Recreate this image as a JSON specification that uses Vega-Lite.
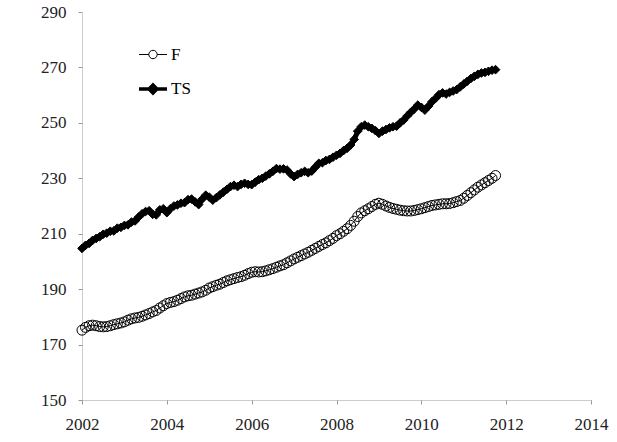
{
  "$schema": "https://vega.github.io/schema/vega-lite/v6.json",
  "width": 509,
  "height": 388,
  "autosize": {"type": "none"},
  "padding": {"left": 82, "top": 12, "right": 26, "bottom": 42},
  "background": "white",
  "config": {
    "view": {"stroke": null},
    "axis": {
      "grid": false,
      "domainColor": "#999999",
      "domainDash": [1, 1],
      "tickColor": "#999999",
      "tickSize": 4,
      "labelFont": "Times New Roman",
      "labelFontSize": 17,
      "labelColor": "#222222",
      "title": null
    }
  },
  "datasets": {
    "series": [
      {"s":"TS","t":2002.0,"v":204.7},{"s":"TS","t":2002.083,"v":205.8},{"s":"TS","t":2002.167,"v":206.5},{"s":"TS","t":2002.25,"v":207.6},{"s":"TS","t":2002.333,"v":208.3},{"s":"TS","t":2002.417,"v":208.9},{"s":"TS","t":2002.5,"v":209.8},{"s":"TS","t":2002.583,"v":210.2},{"s":"TS","t":2002.667,"v":210.9},{"s":"TS","t":2002.75,"v":211.0},{"s":"TS","t":2002.833,"v":212.0},{"s":"TS","t":2002.917,"v":212.3},
      {"s":"TS","t":2003.0,"v":213.0},{"s":"TS","t":2003.083,"v":213.2},{"s":"TS","t":2003.167,"v":214.2},{"s":"TS","t":2003.25,"v":214.6},{"s":"TS","t":2003.333,"v":216.0},{"s":"TS","t":2003.417,"v":217.2},{"s":"TS","t":2003.5,"v":218.0},{"s":"TS","t":2003.583,"v":218.3},{"s":"TS","t":2003.667,"v":217.0},{"s":"TS","t":2003.75,"v":216.8},{"s":"TS","t":2003.833,"v":218.6},{"s":"TS","t":2003.917,"v":219.0},
      {"s":"TS","t":2004.0,"v":217.6},{"s":"TS","t":2004.083,"v":219.0},{"s":"TS","t":2004.167,"v":220.0},{"s":"TS","t":2004.25,"v":220.4},{"s":"TS","t":2004.333,"v":221.0},{"s":"TS","t":2004.417,"v":221.2},{"s":"TS","t":2004.5,"v":222.3},{"s":"TS","t":2004.583,"v":222.5},{"s":"TS","t":2004.667,"v":221.5},{"s":"TS","t":2004.75,"v":220.5},{"s":"TS","t":2004.833,"v":222.5},{"s":"TS","t":2004.917,"v":223.9},
      {"s":"TS","t":2005.0,"v":223.2},{"s":"TS","t":2005.083,"v":222.1},{"s":"TS","t":2005.167,"v":223.0},{"s":"TS","t":2005.25,"v":224.0},{"s":"TS","t":2005.333,"v":225.0},{"s":"TS","t":2005.417,"v":226.0},{"s":"TS","t":2005.5,"v":227.0},{"s":"TS","t":2005.583,"v":227.5},{"s":"TS","t":2005.667,"v":227.0},{"s":"TS","t":2005.75,"v":227.8},{"s":"TS","t":2005.833,"v":228.2},{"s":"TS","t":2005.917,"v":227.8},
      {"s":"TS","t":2006.0,"v":227.7},{"s":"TS","t":2006.083,"v":228.6},{"s":"TS","t":2006.167,"v":229.5},{"s":"TS","t":2006.25,"v":230.0},{"s":"TS","t":2006.333,"v":230.8},{"s":"TS","t":2006.417,"v":231.6},{"s":"TS","t":2006.5,"v":232.5},{"s":"TS","t":2006.583,"v":233.5},{"s":"TS","t":2006.667,"v":233.3},{"s":"TS","t":2006.75,"v":233.4},{"s":"TS","t":2006.833,"v":233.0},{"s":"TS","t":2006.917,"v":231.6},
      {"s":"TS","t":2007.0,"v":230.6},{"s":"TS","t":2007.083,"v":231.4},{"s":"TS","t":2007.167,"v":232.0},{"s":"TS","t":2007.25,"v":232.5},{"s":"TS","t":2007.333,"v":232.0},{"s":"TS","t":2007.417,"v":232.6},{"s":"TS","t":2007.5,"v":234.0},{"s":"TS","t":2007.583,"v":235.4},{"s":"TS","t":2007.667,"v":235.6},{"s":"TS","t":2007.75,"v":236.4},{"s":"TS","t":2007.833,"v":236.8},{"s":"TS","t":2007.917,"v":237.6},
      {"s":"TS","t":2008.0,"v":238.3},{"s":"TS","t":2008.083,"v":239.0},{"s":"TS","t":2008.167,"v":240.0},{"s":"TS","t":2008.25,"v":240.8},{"s":"TS","t":2008.333,"v":242.0},{"s":"TS","t":2008.417,"v":244.0},{"s":"TS","t":2008.5,"v":247.0},{"s":"TS","t":2008.583,"v":248.6},{"s":"TS","t":2008.667,"v":249.2},{"s":"TS","t":2008.75,"v":248.6},{"s":"TS","t":2008.833,"v":248.0},{"s":"TS","t":2008.917,"v":247.2},
      {"s":"TS","t":2009.0,"v":246.2},{"s":"TS","t":2009.083,"v":247.0},{"s":"TS","t":2009.167,"v":247.6},{"s":"TS","t":2009.25,"v":248.2},{"s":"TS","t":2009.333,"v":248.6},{"s":"TS","t":2009.417,"v":248.8},{"s":"TS","t":2009.5,"v":250.0},{"s":"TS","t":2009.583,"v":251.0},{"s":"TS","t":2009.667,"v":252.5},{"s":"TS","t":2009.75,"v":253.8},{"s":"TS","t":2009.833,"v":255.0},{"s":"TS","t":2009.917,"v":256.4},
      {"s":"TS","t":2010.0,"v":255.6},{"s":"TS","t":2010.083,"v":254.6},{"s":"TS","t":2010.167,"v":256.0},{"s":"TS","t":2010.25,"v":257.6},{"s":"TS","t":2010.333,"v":258.8},{"s":"TS","t":2010.417,"v":260.2},{"s":"TS","t":2010.5,"v":260.8},{"s":"TS","t":2010.583,"v":260.4},{"s":"TS","t":2010.667,"v":261.0},{"s":"TS","t":2010.75,"v":261.5},{"s":"TS","t":2010.833,"v":262.0},{"s":"TS","t":2010.917,"v":263.0},
      {"s":"TS","t":2011.0,"v":264.0},{"s":"TS","t":2011.083,"v":265.0},{"s":"TS","t":2011.167,"v":266.0},{"s":"TS","t":2011.25,"v":266.8},{"s":"TS","t":2011.333,"v":267.5},{"s":"TS","t":2011.417,"v":268.0},{"s":"TS","t":2011.5,"v":268.2},{"s":"TS","t":2011.583,"v":268.6},{"s":"TS","t":2011.667,"v":269.0},{"s":"TS","t":2011.75,"v":269.2},
      {"s":"F","t":2002.0,"v":175.2},{"s":"F","t":2002.083,"v":176.2},{"s":"F","t":2002.167,"v":176.8},{"s":"F","t":2002.25,"v":177.0},{"s":"F","t":2002.333,"v":176.8},{"s":"F","t":2002.417,"v":176.5},{"s":"F","t":2002.5,"v":176.4},{"s":"F","t":2002.583,"v":176.5},{"s":"F","t":2002.667,"v":176.8},{"s":"F","t":2002.75,"v":177.2},{"s":"F","t":2002.833,"v":177.5},{"s":"F","t":2002.917,"v":177.8},
      {"s":"F","t":2003.0,"v":178.2},{"s":"F","t":2003.083,"v":178.8},{"s":"F","t":2003.167,"v":179.3},{"s":"F","t":2003.25,"v":179.6},{"s":"F","t":2003.333,"v":179.8},{"s":"F","t":2003.417,"v":180.2},{"s":"F","t":2003.5,"v":180.7},{"s":"F","t":2003.583,"v":181.2},{"s":"F","t":2003.667,"v":181.8},{"s":"F","t":2003.75,"v":182.3},{"s":"F","t":2003.833,"v":183.2},{"s":"F","t":2003.917,"v":184.0},
      {"s":"F","t":2004.0,"v":184.8},{"s":"F","t":2004.083,"v":185.2},{"s":"F","t":2004.167,"v":185.5},{"s":"F","t":2004.25,"v":186.0},{"s":"F","t":2004.333,"v":186.6},{"s":"F","t":2004.417,"v":187.2},{"s":"F","t":2004.5,"v":187.6},{"s":"F","t":2004.583,"v":187.8},{"s":"F","t":2004.667,"v":188.2},{"s":"F","t":2004.75,"v":188.6},{"s":"F","t":2004.833,"v":189.0},{"s":"F","t":2004.917,"v":189.6},
      {"s":"F","t":2005.0,"v":190.4},{"s":"F","t":2005.083,"v":190.9},{"s":"F","t":2005.167,"v":191.4},{"s":"F","t":2005.25,"v":191.8},{"s":"F","t":2005.333,"v":192.4},{"s":"F","t":2005.417,"v":193.0},{"s":"F","t":2005.5,"v":193.4},{"s":"F","t":2005.583,"v":193.8},{"s":"F","t":2005.667,"v":194.2},{"s":"F","t":2005.75,"v":194.5},{"s":"F","t":2005.833,"v":195.0},{"s":"F","t":2005.917,"v":195.6},
      {"s":"F","t":2006.0,"v":196.1},{"s":"F","t":2006.083,"v":196.3},{"s":"F","t":2006.167,"v":196.2},{"s":"F","t":2006.25,"v":196.3},{"s":"F","t":2006.333,"v":196.6},{"s":"F","t":2006.417,"v":197.0},{"s":"F","t":2006.5,"v":197.4},{"s":"F","t":2006.583,"v":197.9},{"s":"F","t":2006.667,"v":198.4},{"s":"F","t":2006.75,"v":198.8},{"s":"F","t":2006.833,"v":199.5},{"s":"F","t":2006.917,"v":200.2},
      {"s":"F","t":2007.0,"v":200.9},{"s":"F","t":2007.083,"v":201.5},{"s":"F","t":2007.167,"v":202.1},{"s":"F","t":2007.25,"v":202.7},{"s":"F","t":2007.333,"v":203.3},{"s":"F","t":2007.417,"v":204.0},{"s":"F","t":2007.5,"v":204.7},{"s":"F","t":2007.583,"v":205.4},{"s":"F","t":2007.667,"v":206.1},{"s":"F","t":2007.75,"v":206.7},{"s":"F","t":2007.833,"v":207.5},{"s":"F","t":2007.917,"v":208.3},
      {"s":"F","t":2008.0,"v":209.3},{"s":"F","t":2008.083,"v":210.0},{"s":"F","t":2008.167,"v":210.9},{"s":"F","t":2008.25,"v":211.8},{"s":"F","t":2008.333,"v":213.0},{"s":"F","t":2008.417,"v":214.5},{"s":"F","t":2008.5,"v":216.2},{"s":"F","t":2008.583,"v":217.5},{"s":"F","t":2008.667,"v":218.3},{"s":"F","t":2008.75,"v":219.0},{"s":"F","t":2008.833,"v":219.8},{"s":"F","t":2008.917,"v":220.6},
      {"s":"F","t":2009.0,"v":221.0},{"s":"F","t":2009.083,"v":220.6},{"s":"F","t":2009.167,"v":220.0},{"s":"F","t":2009.25,"v":219.5},{"s":"F","t":2009.333,"v":219.1},{"s":"F","t":2009.417,"v":218.8},{"s":"F","t":2009.5,"v":218.5},{"s":"F","t":2009.583,"v":218.3},{"s":"F","t":2009.667,"v":218.2},{"s":"F","t":2009.75,"v":218.2},{"s":"F","t":2009.833,"v":218.4},{"s":"F","t":2009.917,"v":218.7},
      {"s":"F","t":2010.0,"v":219.0},{"s":"F","t":2010.083,"v":219.4},{"s":"F","t":2010.167,"v":219.8},{"s":"F","t":2010.25,"v":220.2},{"s":"F","t":2010.333,"v":220.4},{"s":"F","t":2010.417,"v":220.6},{"s":"F","t":2010.5,"v":220.8},{"s":"F","t":2010.583,"v":220.8},{"s":"F","t":2010.667,"v":220.9},{"s":"F","t":2010.75,"v":221.2},{"s":"F","t":2010.833,"v":221.6},{"s":"F","t":2010.917,"v":222.0},
      {"s":"F","t":2011.0,"v":222.8},{"s":"F","t":2011.083,"v":223.8},{"s":"F","t":2011.167,"v":224.8},{"s":"F","t":2011.25,"v":225.8},{"s":"F","t":2011.333,"v":226.8},{"s":"F","t":2011.417,"v":227.6},{"s":"F","t":2011.5,"v":228.4},{"s":"F","t":2011.583,"v":229.2},{"s":"F","t":2011.667,"v":230.0},{"s":"F","t":2011.75,"v":231.0}
    ]
  },
  "data": {"name": "series"},
  "encoding": {
    "x": {
      "field": "t", "type": "quantitative",
      "scale": {"domain": [2002, 2014], "nice": false, "zero": false},
      "axis": {"values": [2002, 2004, 2006, 2008, 2010, 2012, 2014], "format": "d", "labelPadding": 12, "labelFlush": false}
    },
    "y": {
      "field": "v", "type": "quantitative",
      "scale": {"domain": [150, 290], "nice": false, "zero": false},
      "axis": {"values": [150, 170, 190, 210, 230, 250, 270, 290], "labelPadding": 12}
    }
  },
  "layer": [
    {
      "mark": {"type": "line", "color": "black"},
      "encoding": {
        "detail": {"field": "s"},
        "strokeWidth": {"condition": {"test": "datum.s == 'TS'", "value": 5}, "value": 1}
      }
    },
    {
      "mark": {"type": "point", "filled": false, "stroke": "black", "strokeWidth": 1, "opacity": 1},
      "encoding": {
        "shape": {"condition": {"test": "datum.s == 'TS'", "value": "diamond"}, "value": "circle"},
        "fill": {"condition": {"test": "datum.s == 'TS'", "value": "black"}, "value": "transparent"},
        "size": {"condition": {"test": "datum.s == 'TS'", "value": 75}, "value": 100}
      }
    },
    {
      "transform": [{"filter": "false"}],
      "mark": {"type": "point", "opacity": 1, "size": 784},
      "encoding": {
        "shape": {
          "field": "s", "type": "nominal",
          "scale": {"domain": ["F", "TS"], "range": ["M-1,0L-0.3,0M0.3,0L1,0M0.3,0A0.3,0.3,0,1,1,-0.3,0A0.3,0.3,0,1,1,0.3,0Z", "M-1,0L1,0M0,-0.28L0.28,0L0,0.28L-0.28,0Z"]},
          "legend": {
            "title": null,
            "orient": "none",
            "legendX": 55,
            "legendY": 28,
            "padding": 0,
            "rowPadding": 10,
            "symbolSize": 784,
            "symbolOpacity": 1,
            "labelOffset": 2,
            "labelFont": "Times New Roman",
            "labelFontSize": 17,
            "labelColor": "black"
          }
        },
        "fill": {"field": "s", "type": "nominal", "scale": {"domain": ["F", "TS"], "range": ["white", "black"]}},
        "stroke": {"field": "s", "type": "nominal", "scale": {"domain": ["F", "TS"], "range": ["black", "black"]}},
        "strokeWidth": {"field": "s", "type": "nominal", "scale": {"domain": ["F", "TS"], "range": [1, 3.5]}}
      }
    }
  ]
}
